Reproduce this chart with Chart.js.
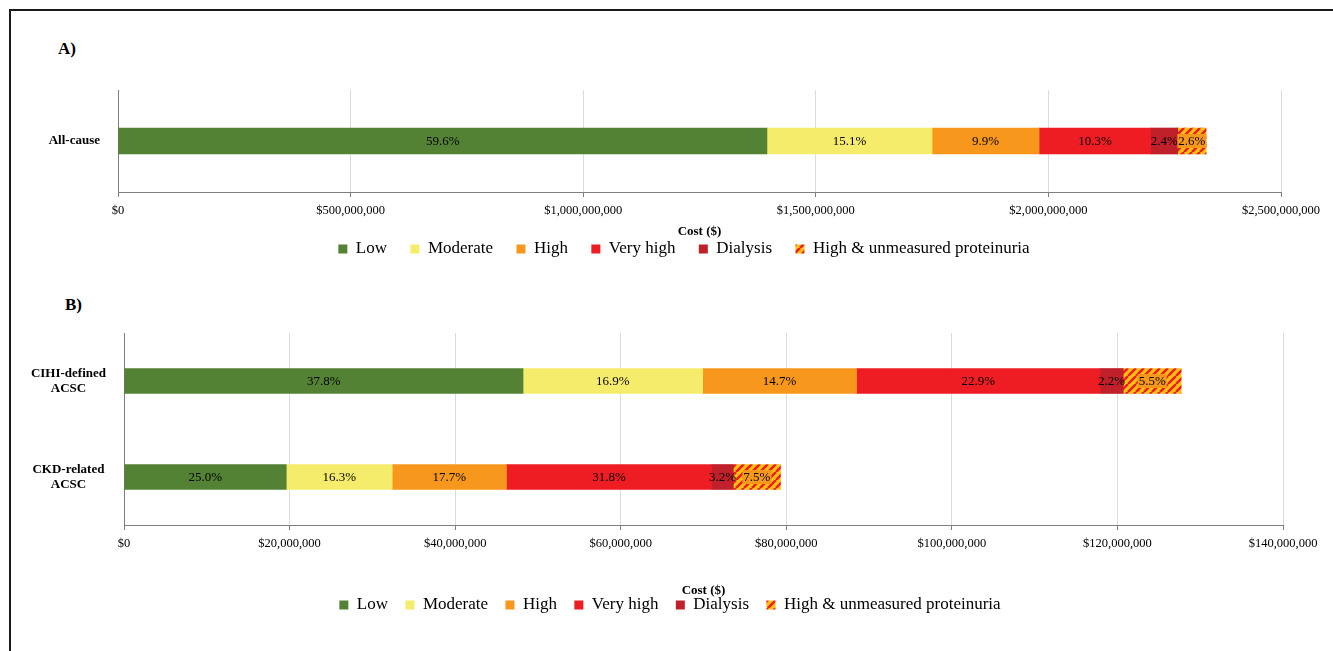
<!DOCTYPE html>
<html><head><meta charset="utf-8">
<script src="https://cdn.jsdelivr.net/npm/chart.js@4/dist/chart.umd.min.js"></script>
<style>
html,body{margin:0;padding:0;background:#fff;width:1333px;height:651px;overflow:hidden;font-family:"Liberation Serif","Times New Roman",serif;}
#frame{position:absolute;left:9px;top:9px;width:1400px;height:700px;border-left:2px solid #1a1a1a;border-top:2px solid #1a1a1a;}
.panel{position:absolute;font-weight:bold;font-size:17px;line-height:17px;color:#000;}
canvas{position:absolute;left:0;}
</style></head><body>
<div id="frame"></div>
<div class="panel" style="left:58px;top:40px">A)</div>
<div class="panel" style="left:65px;top:296px">B)</div>
<canvas id="chartA" width="1333" height="270" style="top:0"></canvas>
<canvas id="chartB" width="1333" height="345" style="top:280px"></canvas>
<script>
// ---------- data ----------
const seriesNames = ['Low','Moderate','High','Very high','Dialysis','High & unmeasured proteinuria'];
const seriesColors = ['#548235','#F5EC6C','#F7981D','#EE1D23','#C0202A','hatch'];

// Panel A
const categoriesA = ['All-cause'];
const lowA = [1395000000];
const moderateA = [355000000];
const highA = [230000000];
const veryHighA = [240000000];
const dialysisA = [58000000];
const hiUnmeasuredA = [61000000];
const lowPctA = ['59.6%'];
const moderatePctA = ['15.1%'];
const highPctA = ['9.9%'];
const veryHighPctA = ['10.3%'];
const dialysisPctA = ['2.4%'];
const hiUnmeasuredPctA = ['2.6%'];
const axisMaxA = 2500000000;
const tickStepA = 500000000;

// Panel B
const categoriesB = [['CIHI-defined','ACSC'], ['CKD-related','ACSC']];
const lowB = [48200000, 19600000];
const moderateB = [21700000, 12800000];
const highB = [18600000, 13800000];
const veryHighB = [29400000, 24800000];
const dialysisB = [2800000, 2600000];
const hiUnmeasuredB = [7000000, 5700000];
const lowPctB = ['37.8%','25.0%'];
const moderatePctB = ['16.9%','16.3%'];
const highPctB = ['14.7%','17.7%'];
const veryHighPctB = ['22.9%','31.8%'];
const dialysisPctB = ['2.2%','3.2%'];
const hiUnmeasuredPctB = ['5.5%','7.5%'];
const axisMaxB = 140000000;
const tickStepB = 20000000;

const axisTitle = 'Cost ($)';

// ---------- helpers ----------
Chart.defaults.font.family = '"Liberation Serif","Times New Roman",serif';
Chart.defaults.color = '#000';

function makeHatch(){
  const c = document.createElement('canvas'); c.width = 8; c.height = 8;
  const g = c.getContext('2d');
  g.fillStyle = '#FFC20E'; g.fillRect(0,0,8,8);
  g.strokeStyle = '#EE1D23'; g.lineWidth = 2.6;
  g.beginPath();
  [-8,0,8].forEach(x => { g.moveTo(x,8); g.lineTo(x+8,0); });
  g.stroke();
  return g.createPattern(c,'repeat');
}
const hatch = makeHatch();

function buildDatasets(values, pcts, thickness){
  return seriesNames.map((name,i) => ({
    label: name,
    data: values[i],
    pct: pcts[i],
    hatched: seriesColors[i] === 'hatch',
    backgroundColor: seriesColors[i] === 'hatch' ? hatch : seriesColors[i],
    borderWidth: 0,
    barThickness: thickness
  }));
}

const segLabels = {
  id: 'segLabels',
  afterDatasetsDraw(chart){
    const ctx = chart.ctx;
    ctx.save();
    ctx.font = '13px "Liberation Serif","Times New Roman",serif';
    ctx.textAlign = 'center'; ctx.textBaseline = 'middle';
    chart.data.datasets.forEach((ds,di) => {
      const meta = chart.getDatasetMeta(di);
      meta.data.forEach((el,i) => {
        const t = ds.pct[i];
        const p = el.getCenterPoint();
        if (ds.hatched){
          const w = ctx.measureText(t).width;
          ctx.fillStyle = '#F7981D';
          ctx.fillRect(p.x - w/2 - 1, p.y - 7, w + 2, 14);
        }
        ctx.fillStyle = '#000';
        ctx.fillText(t, p.x, p.y + 1);
      });
    });
    ctx.restore();
  }
};

// shifts the legend's horizontal band so it is centred like the original figure
const legendShift = {
  id: 'legendShift',
  afterLayout(chart, args, opts){
    const lg = chart.legend;
    if (lg && opts.dx){ lg.left += opts.dx; lg.right += opts.dx; }
  }
};

function makeOptions(cfg){
  return {
    indexAxis: 'y', responsive: false, animation: false, devicePixelRatio: 1,
    layout: { padding: { top: cfg.padTop, left: 0, right: cfg.padRight, bottom: cfg.padBottom } },
    plugins: {
      legend: { position: 'bottom', labels: { boxWidth: 9, boxHeight: 9, padding: cfg.legendPad, color: '#000', font: { size: 17 } } },
      legendShift: { dx: cfg.legendDx },
      tooltip: { enabled: false }
    },
    scales: {
      x: {
        stacked: true, min: 0, max: cfg.max,
        ticks: { stepSize: cfg.step, padding: 6, color: '#000', font: { size: 12.5 }, maxRotation: 0, autoSkip: false,
                 callback: v => '$' + Number(v).toLocaleString('en-US') },
        grid: { color: '#dcdcdc', tickColor: '#7f7f7f', tickLength: 5 },
        border: { color: '#7f7f7f', width: 1 },
        title: { display: true, text: axisTitle, color: '#000', font: { size: 13, weight: 'bold' }, padding: { top: 0, bottom: cfg.titlePadBottom } },
        afterFit: s => { s.height = cfg.xAxisH; }
      },
      y: {
        stacked: true,
        grid: { display: false },
        border: { color: '#7f7f7f', width: 1 },
        ticks: { color: '#000', font: { size: 13, weight: 'bold', lineHeight: 1.15 }, padding: 10, crossAlign: 'center' },
        afterFit: s => { s.width = cfg.yAxisW; }
      }
    }
  };
}

new Chart(document.getElementById('chartA'), {
  type: 'bar',
  data: {
    labels: categoriesA,
    datasets: buildDatasets(
      [lowA, moderateA, highA, veryHighA, dialysisA, hiUnmeasuredA],
      [lowPctA, moderatePctA, highPctA, veryHighPctA, dialysisPctA, hiUnmeasuredPctA], 26)
  },
  options: makeOptions({ padTop: 90, padRight: 52, padBottom: 2.5, legendPad: 23.4, legendDx: 43.5,
                         max: axisMaxA, step: tickStepA, xAxisH: 25.1, titlePadBottom: -22.7, yAxisW: 118 }),
  plugins: [segLabels, legendShift]
});

new Chart(document.getElementById('chartB'), {
  type: 'bar',
  data: {
    labels: categoriesB,
    datasets: buildDatasets(
      [lowB, moderateB, highB, veryHighB, dialysisB, hiUnmeasuredB],
      [lowPctB, moderatePctB, highPctB, veryHighPctB, dialysisPctB, hiUnmeasuredPctB], 25)
  },
  options: makeOptions({ padTop: 53, padRight: 50, padBottom: 1.5, legendPad: 17.4, legendDx: 28.5,
                         max: axisMaxB, step: tickStepB, xAxisH: 54.1, titlePadBottom: -19.7, yAxisW: 124 }),
  plugins: [segLabels, legendShift]
});
</script>
</body></html>
